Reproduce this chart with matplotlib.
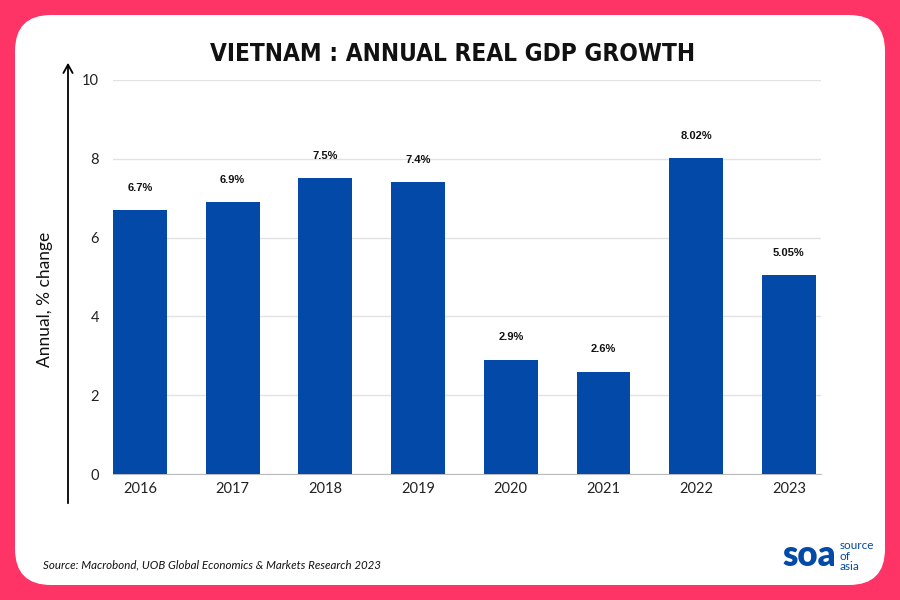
import matplotlib
matplotlib.use("Agg")
import matplotlib.pyplot as plt
from matplotlib.patches import FancyBboxPatch, FancyArrowPatch

years = ["2016", "2017", "2018", "2019", "2020", "2021", "2022", "2023"]
growth = [6.7, 6.9, 7.5, 7.4, 2.9, 2.6, 8.02, 5.05]
labels = ["6.7%", "6.9%", "7.5%", "7.4%", "2.9%", "2.6%", "8.02%", "5.05%"]
yticks = [0, 2, 4, 6, 8, 10]

PINK = "#FE3366"
BLUE = "#0349A8"

fig = plt.figure(figsize=(9, 6), dpi=100)
fig.patch.set_facecolor(PINK)

# white rounded card
card = FancyBboxPatch((15 / 900, 15 / 600), 870 / 900, 570 / 600,
                      boxstyle="round,pad=0,rounding_size=0.04",
                      transform=fig.transFigure, facecolor="white",
                      edgecolor="none", mutation_aspect=1.5, zorder=-5)
fig.patches.append(card)

ax = fig.add_axes([0.1256, 0.21, 0.787, 0.6567])
ax.set_zorder(2)
ax.set_facecolor("none")
x = list(range(len(years)))
ax.bar(x, growth, width=0.58, color=BLUE, zorder=3)
for xi, v, lab in zip(x, growth, labels):
    ax.text(xi, v + 0.57, lab, ha="center", va="center", fontsize=8,
            fontweight="bold", family=["Liberation Sans", "DejaVu Sans"], color="#111111")

ax.set_ylim(0, 10)
ax.set_xlim(-0.29, 7.35)
ax.set_yticks(yticks)
ax.set_xticks(x)
ax.set_xticklabels(years)
ax.grid(axis="y", color="#E2E2E2", linewidth=1, zorder=0)
ax.tick_params(length=0, labelsize=10.5, colors="#222222")
for lab in ax.get_xticklabels() + ax.get_yticklabels():
    lab.set_family("Lato")
ax.tick_params(axis="y", pad=10)
ax.tick_params(axis="x", pad=6)
for s in ["top", "right", "left"]:
    ax.spines[s].set_visible(False)
ax.spines["bottom"].set_color("#BBBBBB")

# vertical arrow
fig.add_artist(FancyArrowPatch(
    (68 / 900, 1 - 506 / 600), (68 / 900, 1 - 60 / 600),
    transform=fig.transFigure, arrowstyle="->,head_length=4,head_width=2.2",
    color="black", linewidth=1.3, mutation_scale=1.5))

fig.text(45 / 900, 1 - 299 / 600, "Annual, % change", rotation=90,
         ha="center", va="center", fontsize=12.5, family="Lato", color="#111111")

fig.text(453 / 900, 1 - 54 / 600, "VIETNAM : ANNUAL REAL GDP GROWTH",
         ha="center", va="center", fontsize=17.5, fontweight="bold",
         family="DejaVu Sans", stretch="condensed", color="#111111")

fig.text(43 / 900, 1 - 565 / 600,
         "Source: Macrobond, UOB Global Economics & Markets Research 2023",
         ha="left", va="center", fontsize=8.3, style="italic", family="Lato",
         color="#111111")

# logo
fig.text(836 / 900, 1 - 555 / 600, "soa", ha="right", va="center",
         fontsize=25, fontweight="heavy", family="Lato", color=BLUE)
fig.text(840 / 900, 1 - 556 / 600, "source\nof\nasia", ha="left", va="center",
         fontsize=8.5, family="Lato", color=BLUE, linespacing=0.95)

fig.savefig("out.png", dpi=100, facecolor=PINK)
